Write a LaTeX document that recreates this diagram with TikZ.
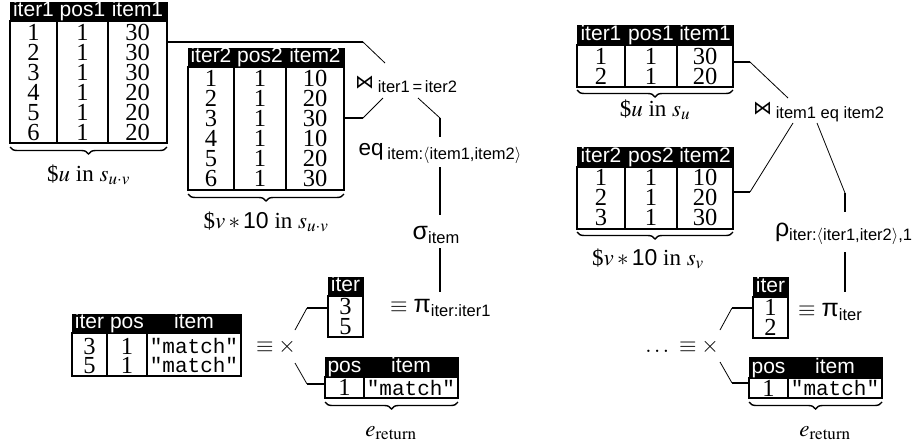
\documentclass[tikz,border=0pt]{standalone}
\usepackage{mathptmx}
\usepackage{fontspec}
\setmainfont{Liberation Serif}
\setsansfont{Liberation Sans}
\setmonofont{Liberation Mono}
\newfontfamily\djv{DejaVu Sans}
\usetikzlibrary{decorations.pathreplacing}
\newcommand\myhf{\sffamily\fontsize{21}{21}\selectfont}
\newcommand\mydf{\rmfamily\fontsize{24.5}{24.5}\selectfont}
\newcommand\mytf{\ttfamily\fontsize{21}{21}\selectfont}
\newcommand\mylf{\rmfamily\fontsize{23}{23}\selectfont}
\newcommand\myof{\sffamily\fontsize{22.5}{22.5}\selectfont}
\newcommand\mygk{\sffamily\fontsize{25}{25}\selectfont}
\newcommand\mysb[1]{\raisebox{-4pt}{\sffamily\fontsize{16.5}{16.5}\selectfont #1}}
\newcommand\mybt{{\djv\fontsize{19}{19}\selectfont ⋈}}
\begin{document}
\begin{tikzpicture}[x=1pt,y=-1pt,
  every node/.style={inner sep=0pt,outer sep=0pt},
  hdr/.style={fill=black,draw=black,line width=1pt,anchor=south west},
  tbody/.style={draw=black,line width=1.8pt,anchor=north west},
  csep/.style={line width=1.5pt},
  htxt/.style={text=white,font=\myhf,anchor=base},
  dig/.style={font=\mydf,anchor=base},
  ttx/.style={font=\mytf,anchor=base},
  lbl/.style={font=\mylf,anchor=base},
  op/.style={font=\myof,anchor=base west},
  thk/.style={line width=1.6pt},
  thn/.style={line width=0.8pt},
  brc/.style={decorate,decoration={brace,mirror,amplitude=7pt},line width=1.4pt}]
\useasboundingbox (0,0) rectangle (916,445);

% ---------- left: U1
\node[hdr,minimum width=157pt,minimum height=19pt] (U1h) at (10,21) {};
\node[tbody,minimum width=157pt,minimum height=122pt] (U1) at (10,21) {};
\draw[csep] (57,21) -- (57,143) (108,21) -- (108,143);
\node[htxt] at (33.5,16.5) {iter1};
\node[htxt] at (82.5,16.5) {pos1};
\node[htxt] at (137.5,16.5) {item1};
\foreach \a/\b/\c [count=\k from 0] in {1/1/30,2/1/30,3/1/30,4/1/20,5/1/20,6/1/20}{
  \node[dig] at (33.5,{40+20*\k}) {\a};
  \node[dig] at (82.5,{40+20*\k}) {\b};
  \node[dig] at (137.5,{40+20*\k}) {\c};
}
\draw[brc] (10,147) -- (167,147);
\node[lbl] (U1l) at (88.5,181) {\$$u$ in $s_{u\cdot v}$};

% ---------- left: V1
\node[hdr,minimum width=156pt,minimum height=19pt] (V1h) at (188,67) {};
\node[tbody,minimum width=156pt,minimum height=123pt] (V1) at (188,67) {};
\draw[csep] (234,67) -- (234,190) (286,67) -- (286,190);
\node[htxt] at (211,62.5) {iter2};
\node[htxt] at (260,62.5) {pos2};
\node[htxt] at (315,62.5) {item2};
\foreach \a/\b/\c [count=\k from 0] in {1/1/10,2/1/20,3/1/30,4/1/10,5/1/20,6/1/30}{
  \node[dig] at (211,{86+20*\k}) {\a};
  \node[dig] at (260,{86+20*\k}) {\b};
  \node[dig] at (315,{86+20*\k}) {\c};
}
\draw[brc] (188,194) -- (344,194);
\node[lbl] (V1l) at (266,228) {\$$v\ast\mbox{\sffamily 10}$ in $s_{u\cdot v}$};

% ---------- left operators
\node[op] (J1) at (355,88) {\mybt\,\mysb{iter1\,=\,iter2}};
\node[op,anchor=base] (E1) at (440,155) {eq\,\mysb{item:$\langle$item1,item2$\rangle$}};
\node[op,anchor=base] (S1) at (436,239) {{\mygk σ}\mysb{item}};
\node[op] (P1) at (390,312) {$\equiv$\ {\mygk π}\mysb{iter:iter1}};

% ---------- left: iter table
\node[hdr,minimum width=35pt,minimum height=19pt] (IT1h) at (328,296) {};
\node[tbody,minimum width=35pt,minimum height=41pt] (IT1) at (328,296) {};
\node[htxt] at (345.5,291.5) {iter};
\node[dig] at (345.5,314.5) {3};
\node[dig] at (345.5,334) {5};

% ---------- left: product
\node[font=\myof] (X1) at (276,347) {$\equiv\times$};

% ---------- left: result table
\node[hdr,minimum width=169pt,minimum height=19pt] (Rh) at (72,333) {};
\node[tbody,minimum width=169pt,minimum height=43pt] (R) at (72,333) {};
\draw[csep] (107,333) -- (107,376) (147,333) -- (147,376);
\node[htxt] at (89.5,328.5) {iter};
\node[htxt] at (127,328.5) {pos};
\node[htxt] at (194,328.5) {item};
\node[dig] at (89.5,354) {3};
\node[dig] at (127,354) {1};
\node[ttx] at (194,353) {"match"};
\node[dig] at (89.5,373) {5};
\node[dig] at (127,373) {1};
\node[ttx] at (194,372) {"match"};

% ---------- left: pos item table
\node[hdr,minimum width=133pt,minimum height=20pt] (PI1h) at (325,377) {};
\node[tbody,minimum width=133pt,minimum height=21pt] (PI1) at (325,377) {};
\draw[csep] (364,377) -- (364,398);
\node[htxt] at (344.5,372.5) {pos};
\node[htxt] at (411,372.5) {item};
\node[dig] at (344.5,395.5) {1};
\node[ttx] at (411,395) {"match"};
\draw[brc] (325,402) -- (458,402);
\node[lbl] (PI1l) at (391,436) {$e_{\mathrm{return}}$};

% ---------- left connectors
\coordinate (c1) at (363,42);  \coordinate (c2) at (385,63);
\coordinate (c3) at (363,118); \coordinate (c4) at (383,98);
\coordinate (c5) at (418,98);  \coordinate (c6) at (440,118); \coordinate (c7) at (440,137);
\coordinate (c8) at (440,167); \coordinate (c9) at (440,215);
\coordinate (c10) at (440,248); \coordinate (c11) at (440,292);
\draw[thk] (U1.east |- c1) -- (c1);  \draw[thn] (c1) -- (c2);
\draw[thk] (V1.east |- c3) -- (c3);  \draw[thn] (c3) -- (c4);
\draw[thn] (c5) -- (c6); \draw[thk] (c6) -- (c7);
\draw[thk] (c8) -- (c9);
\draw[thk] (c10) -- (c11);
\coordinate (d1) at (295,330); \coordinate (d2) at (307,308);
\coordinate (d3) at (295,363); \coordinate (d4) at (307,384);
\draw[thn] (d1) -- (d2); \draw[thk] (d2) -- (IT1.west |- d2);
\draw[thn] (d3) -- (d4); \draw[thk] (d4) -- (PI1.west |- d4);

% ---------- right: U2
\node[hdr,minimum width=156pt,minimum height=20pt] (U2h) at (577,45) {};
\node[tbody,minimum width=156pt,minimum height=42pt] (U2) at (577,45) {};
\draw[csep] (625,45) -- (625,87) (677,45) -- (677,87);
\node[htxt] at (601,40.5) {iter1};
\node[htxt] at (651,40.5) {pos1};
\node[htxt] at (705,40.5) {item1};
\foreach \a/\b/\c [count=\k from 0] in {1/1/30,2/1/20}{
  \node[dig] at (601,{64+20*\k}) {\a};
  \node[dig] at (651,{64+20*\k}) {\b};
  \node[dig] at (705,{64+20*\k}) {\c};
}
\draw[brc] (577,90) -- (733,90);
\node[lbl] (U2l) at (655,116) {\$$u$ in $s_{u}$};

% ---------- right: V2
\node[hdr,minimum width=156pt,minimum height=20pt] (V2h) at (577,167) {};
\node[tbody,minimum width=156pt,minimum height=62pt] (V2) at (577,167) {};
\draw[csep] (625,167) -- (625,229) (677,167) -- (677,229);
\node[htxt] at (601,162.5) {iter2};
\node[htxt] at (651,162.5) {pos2};
\node[htxt] at (705,162.5) {item2};
\foreach \a/\b/\c [count=\k from 0] in {1/1/10,2/1/20,3/1/30}{
  \node[dig] at (601,{185.5+20*\k}) {\a};
  \node[dig] at (651,{185.5+20*\k}) {\b};
  \node[dig] at (705,{185.5+20*\k}) {\c};
}
\draw[brc] (577,232) -- (733,232);
\node[lbl] (V2l) at (648,265) {\$$v\ast\mbox{\sffamily 10}$ in $s_{v}$};

% ---------- right operators
\node[op] (J2) at (753,114) {\mybt\,\mysb{item1 eq item2}};
\node[op] (RH) at (775,236) {{\mygk ρ}\mysb{iter:$\langle$iter1,iter2$\rangle$,1}};
\node[op] (P2) at (798,316) {$\equiv$\ {\mygk π}\mysb{iter}};

% ---------- right: iter table
\node[hdr,minimum width=35pt,minimum height=20pt] (IT2h) at (753,297) {};
\node[tbody,minimum width=35pt,minimum height=41pt] (IT2) at (753,297) {};
\node[htxt] at (770.5,292.5) {iter};
\node[dig] at (770.5,315.5) {1};
\node[dig] at (770.5,335) {2};

% ---------- right: product
\node[font=\myof,anchor=east] (X2) at (719,347) {$\ldots\;\equiv\times$};

% ---------- right: pos item table
\node[hdr,minimum width=133pt,minimum height=21pt] (PI2h) at (749,378) {};
\node[tbody,minimum width=133pt,minimum height=20pt] (PI2) at (749,378) {};
\draw[csep] (788,378) -- (788,398);
\node[htxt] at (768.5,373.5) {pos};
\node[htxt] at (835,373.5) {item};
\node[dig] at (768.5,396) {1};
\node[ttx] at (835,395.5) {"match"};
\draw[brc] (749,402) -- (882,402);
\node[lbl] (PI2l) at (825,436) {$e_{\mathrm{return}}$};

% ---------- right connectors
\coordinate (e1) at (750,62);  \coordinate (e2) at (788,98);
\coordinate (e3) at (750,192); \coordinate (e4) at (793,123);
\coordinate (e5) at (817,123); \coordinate (e6) at (845,193); \coordinate (e7) at (845,212);
\coordinate (e8) at (845,252); \coordinate (e9) at (845,292);
\draw[thk] (U2.east |- e1) -- (e1); \draw[thn] (e1) -- (e2);
\draw[thk] (V2.east |- e3) -- (e3); \draw[thn] (e3) -- (e4);
\draw[thn] (e5) -- (e6); \draw[thk] (e6) -- (e7);
\draw[thk] (e8) -- (e9);
\coordinate (f1) at (720,330); \coordinate (f2) at (732,308);
\coordinate (f3) at (720,362); \coordinate (f4) at (732,383);
\draw[thn] (f1) -- (f2); \draw[thk] (f2) -- (IT2.west |- f2);
\draw[thn] (f3) -- (f4); \draw[thk] (f4) -- (PI2.west |- f4);
\end{tikzpicture}
\end{document}
